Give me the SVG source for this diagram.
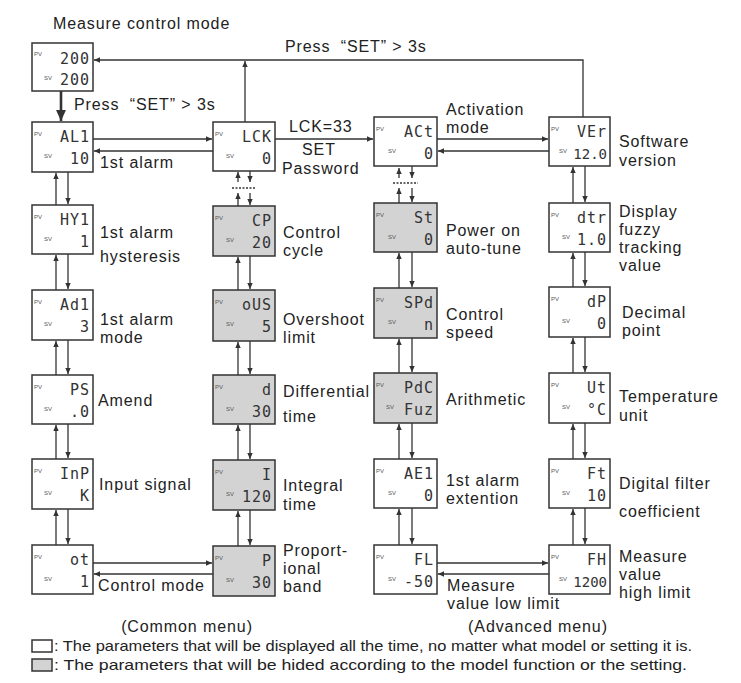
<svg xmlns="http://www.w3.org/2000/svg" width="741" height="683" viewBox="0 0 741 683">
<defs>
<style>
.bx{fill:#fff;stroke:#333;stroke-width:1.5}
.gy{fill:#d3d3d3;stroke:#333;stroke-width:1.5}
.pv{font-family:"Liberation Sans",Arial,sans-serif;font-size:6px;fill:#555}
.dg{font-family:"DejaVu Sans Mono","Liberation Mono",monospace;font-size:15px;fill:#333;text-anchor:end;letter-spacing:1px}
.d4{font-family:"DejaVu Sans Mono","Liberation Mono",monospace;font-size:14px;fill:#333;text-anchor:end}
.lb{font-family:"Liberation Sans",Arial,sans-serif;font-size:16px;letter-spacing:0.9px;fill:#222}
.lg{font-family:"Liberation Sans",Arial,sans-serif;font-size:15px;fill:#222}
.ln{fill:none;stroke:#333;stroke-width:1.3}
.th{fill:none;stroke:#333;stroke-width:2.6}
.dt{fill:none;stroke:#333;stroke-width:1.3;stroke-dasharray:2 1.5}
</style>
<marker id="a" viewBox="0 0 10 10" refX="10" refY="5" markerWidth="7" markerHeight="6" markerUnits="userSpaceOnUse" orient="auto"><path d="M0,0.5 L10,5 L0,9.5 z" fill="#333"/></marker>
<marker id="b" viewBox="0 0 10 10" refX="10" refY="5" markerWidth="11" markerHeight="11" markerUnits="userSpaceOnUse" orient="auto"><path d="M0,0.5 L10,5 L0,9.5 z" fill="#333"/></marker>
</defs>
<rect width="741" height="683" fill="#fff"/>

<g id="labels">
<text class="lb" x="53" y="29">Measure control mode</text>
<text class="lb" x="285" y="52">Press <tspan dx="5">“SET” &gt; 3s</tspan></text>
<text class="lb" x="74" y="110">Press <tspan dx="5">“SET” &gt; 3s</tspan></text>
<text class="lb" x="289" y="132">LCK=33</text>
<text class="lb" x="302" y="155">SET</text>
<text class="lb" x="282" y="174">Password</text>
<text class="lb" x="100" y="168">1st alarm</text>
<text class="lb" x="446" y="115">Activation</text>
<text class="lb" x="446" y="133">mode</text>
<text class="lb" x="619" y="147">Software</text>
<text class="lb" x="619" y="166">version</text>
<text class="lb" x="100" y="238">1st alarm</text>
<text class="lb" x="100" y="262">hysteresis</text>
<text class="lb" x="100" y="325">1st alarm</text>
<text class="lb" x="100" y="343">mode</text>
<text class="lb" x="98" y="406">Amend</text>
<text class="lb" x="99" y="490">Input signal</text>
<text class="lb" x="98" y="591">Control mode</text>
<text class="lb" x="283" y="238">Control</text>
<text class="lb" x="283" y="256">cycle</text>
<text class="lb" x="283" y="325">Overshoot</text>
<text class="lb" x="283" y="343">limit</text>
<text class="lb" x="283" y="397">Differential</text>
<text class="lb" x="283" y="422">time</text>
<text class="lb" x="283" y="491">Integral</text>
<text class="lb" x="283" y="510">time</text>
<text class="lb" x="283" y="556">Proport-</text>
<text class="lb" x="283" y="574">ional</text>
<text class="lb" x="283" y="592">band</text>
<text class="lb" x="446" y="236">Power on</text>
<text class="lb" x="446" y="254">auto-tune</text>
<text class="lb" x="446" y="320">Control</text>
<text class="lb" x="446" y="338">speed</text>
<text class="lb" x="446" y="405">Arithmetic</text>
<text class="lb" x="446" y="486">1st alarm</text>
<text class="lb" x="446" y="504">extention</text>
<text class="lb" x="447" y="591">Measure</text>
<text class="lb" x="447" y="609">value low limit</text>
<text class="lb" x="619" y="217">Display</text>
<text class="lb" x="619" y="235">fuzzy</text>
<text class="lb" x="619" y="253">tracking</text>
<text class="lb" x="619" y="271">value</text>
<text class="lb" x="622" y="318">Decimal</text>
<text class="lb" x="622" y="336">point</text>
<text class="lb" x="619" y="402">Temperature</text>
<text class="lb" x="619" y="421">unit</text>
<text class="lb" x="619" y="489">Digital filter</text>
<text class="lb" x="619" y="517">coefficient</text>
<text class="lb" x="619" y="562">Measure</text>
<text class="lb" x="619" y="580">value</text>
<text class="lb" x="619" y="598">high limit</text>
<text class="lb" x="187" y="632" text-anchor="middle">(Common menu)</text>
<text class="lb" x="538" y="632" text-anchor="middle">(Advanced menu)</text>
</g>

<g id="legend">
<rect class="bx" x="32" y="640" width="20" height="12" stroke-width="1"/>
<text class="lg" x="54" y="651" textLength="638" lengthAdjust="spacingAndGlyphs">: The parameters that will be displayed all the time, no matter what model or setting it is.</text>
<rect class="gy" x="32" y="659" width="20" height="12" stroke-width="1"/>
<text class="lg" x="54" y="670" textLength="633" lengthAdjust="spacingAndGlyphs">: The parameters that will be hided according to the model function or the setting.</text>
</g>

<g id="connectors">
<polyline class="ln" points="583,117 583,60 94,60" marker-end="url(#a)"/>
<line class="ln" x1="245" y1="122" x2="245" y2="61" marker-end="url(#a)"/>
<line class="th" x1="61" y1="91" x2="61" y2="121" marker-end="url(#b)"/>
<line class="ln" x1="93" y1="139" x2="212" y2="139" marker-end="url(#a)"/>
<line class="ln" x1="213" y1="151" x2="94" y2="151" marker-end="url(#a)"/>
<line class="ln" x1="275" y1="139" x2="373" y2="139" marker-end="url(#a)"/>
<line class="ln" x1="437" y1="139" x2="548" y2="139" marker-end="url(#a)"/>
<line class="ln" x1="549" y1="151" x2="438" y2="151" marker-end="url(#a)"/>
<line class="ln" x1="93" y1="563" x2="212" y2="563" marker-end="url(#a)"/>
<line class="ln" x1="213" y1="574" x2="94" y2="574" marker-end="url(#a)"/>
<line class="ln" x1="437" y1="563" x2="548" y2="563" marker-end="url(#a)"/>
<line class="ln" x1="549" y1="574" x2="438" y2="574" marker-end="url(#a)"/>
<line class="ln" x1="56" y1="205" x2="56" y2="173" marker-end="url(#a)"/>
<line class="ln" x1="68" y1="172" x2="68" y2="204" marker-end="url(#a)"/>
<line class="ln" x1="56" y1="290" x2="56" y2="255" marker-end="url(#a)"/>
<line class="ln" x1="68" y1="254" x2="68" y2="289" marker-end="url(#a)"/>
<line class="ln" x1="56" y1="375" x2="56" y2="341" marker-end="url(#a)"/>
<line class="ln" x1="68" y1="340" x2="68" y2="374" marker-end="url(#a)"/>
<line class="ln" x1="56" y1="459" x2="56" y2="425" marker-end="url(#a)"/>
<line class="ln" x1="68" y1="424" x2="68" y2="458" marker-end="url(#a)"/>
<line class="ln" x1="56" y1="545" x2="56" y2="510" marker-end="url(#a)"/>
<line class="ln" x1="68" y1="509" x2="68" y2="544" marker-end="url(#a)"/>
<line class="ln" x1="238" y1="182" x2="238" y2="172" marker-end="url(#a)"/>
<line class="ln" x1="250" y1="171" x2="250" y2="182" marker-end="url(#a)"/>
<line class="dt" x1="232" y1="188" x2="256" y2="188"/>
<line class="ln" x1="238" y1="206" x2="238" y2="193" marker-end="url(#a)"/>
<line class="ln" x1="250" y1="193" x2="250" y2="205" marker-end="url(#a)"/>
<line class="ln" x1="238" y1="290" x2="238" y2="257" marker-end="url(#a)"/>
<line class="ln" x1="250" y1="256" x2="250" y2="289" marker-end="url(#a)"/>
<line class="ln" x1="238" y1="375" x2="238" y2="342" marker-end="url(#a)"/>
<line class="ln" x1="250" y1="341" x2="250" y2="374" marker-end="url(#a)"/>
<line class="ln" x1="238" y1="460" x2="238" y2="425" marker-end="url(#a)"/>
<line class="ln" x1="250" y1="424" x2="250" y2="459" marker-end="url(#a)"/>
<line class="ln" x1="238" y1="546" x2="238" y2="511" marker-end="url(#a)"/>
<line class="ln" x1="250" y1="510" x2="250" y2="545" marker-end="url(#a)"/>
<line class="ln" x1="399" y1="178" x2="399" y2="168" marker-end="url(#a)"/>
<line class="ln" x1="412" y1="166" x2="412" y2="178" marker-end="url(#a)"/>
<line class="dt" x1="393" y1="183" x2="418" y2="183"/>
<line class="ln" x1="399" y1="203" x2="399" y2="188" marker-end="url(#a)"/>
<line class="ln" x1="412" y1="188" x2="412" y2="202" marker-end="url(#a)"/>
<line class="ln" x1="399" y1="288" x2="399" y2="253" marker-end="url(#a)"/>
<line class="ln" x1="412" y1="252" x2="412" y2="287" marker-end="url(#a)"/>
<line class="ln" x1="399" y1="373" x2="399" y2="339" marker-end="url(#a)"/>
<line class="ln" x1="412" y1="338" x2="412" y2="372" marker-end="url(#a)"/>
<line class="ln" x1="399" y1="459" x2="399" y2="424" marker-end="url(#a)"/>
<line class="ln" x1="412" y1="423" x2="412" y2="458" marker-end="url(#a)"/>
<line class="ln" x1="399" y1="545" x2="399" y2="509" marker-end="url(#a)"/>
<line class="ln" x1="412" y1="508" x2="412" y2="544" marker-end="url(#a)"/>
<line class="ln" x1="573" y1="203" x2="573" y2="167" marker-end="url(#a)"/>
<line class="ln" x1="585" y1="166" x2="585" y2="202" marker-end="url(#a)"/>
<line class="ln" x1="573" y1="287" x2="573" y2="253" marker-end="url(#a)"/>
<line class="ln" x1="585" y1="252" x2="585" y2="286" marker-end="url(#a)"/>
<line class="ln" x1="573" y1="373" x2="573" y2="338" marker-end="url(#a)"/>
<line class="ln" x1="585" y1="337" x2="585" y2="372" marker-end="url(#a)"/>
<line class="ln" x1="573" y1="459" x2="573" y2="424" marker-end="url(#a)"/>
<line class="ln" x1="585" y1="423" x2="585" y2="458" marker-end="url(#a)"/>
<line class="ln" x1="573" y1="545" x2="573" y2="509" marker-end="url(#a)"/>
<line class="ln" x1="585" y1="508" x2="585" y2="544" marker-end="url(#a)"/>
</g>

<g id="n-top"><rect class="bx" x="32" y="43" width="61" height="48"/><text class="pv" x="34" y="56">PV</text><text class="pv" x="44" y="80">SV</text><text class="dg" x="90" y="64">200</text><text class="dg" x="90" y="85">200</text></g>
<g id="n-AL1"><rect class="bx" x="32" y="122" width="61" height="50"/><text class="pv" x="34" y="136">PV</text><text class="pv" x="44" y="158">SV</text><text class="dg" x="90" y="142">AL1</text><text class="dg" x="90" y="164">10</text></g>
<g id="n-HY1"><rect class="bx" x="32" y="205" width="61" height="49"/><text class="pv" x="34" y="219">PV</text><text class="pv" x="44" y="241">SV</text><text class="dg" x="90" y="225">HY1</text><text class="dg" x="90" y="247">1</text></g>
<g id="n-Ad1"><rect class="bx" x="32" y="290" width="61" height="50"/><text class="pv" x="34" y="304">PV</text><text class="pv" x="44" y="326">SV</text><text class="dg" x="90" y="310">Ad1</text><text class="dg" x="90" y="332">3</text></g>
<g id="n-PS"><rect class="bx" x="32" y="375" width="61" height="49"/><text class="pv" x="34" y="389">PV</text><text class="pv" x="44" y="411">SV</text><text class="dg" x="90" y="395">PS</text><text class="dg" x="90" y="417">.0</text></g>
<g id="n-InP"><rect class="bx" x="32" y="459" width="61" height="50"/><text class="pv" x="34" y="473">PV</text><text class="pv" x="44" y="495">SV</text><text class="dg" x="90" y="479">InP</text><text class="dg" x="90" y="501">K</text></g>
<g id="n-ot"><rect class="bx" x="32" y="545" width="61" height="49"/><text class="pv" x="34" y="559">PV</text><text class="pv" x="44" y="581">SV</text><text class="dg" x="90" y="565">ot</text><text class="dg" x="90" y="587">1</text></g>

<g id="n-LCK"><rect class="bx" x="213" y="122" width="62" height="49"/><text class="pv" x="215" y="136">PV</text><text class="pv" x="226" y="158">SV</text><text class="dg" x="272" y="142">LCK</text><text class="dg" x="272" y="164">0</text></g>
<g id="n-CP"><rect class="gy" x="213" y="206" width="62" height="50"/><text class="pv" x="215" y="220">PV</text><text class="pv" x="226" y="242">SV</text><text class="dg" x="272" y="226">CP</text><text class="dg" x="272" y="248">20</text></g>
<g id="n-oUS"><rect class="gy" x="213" y="290" width="62" height="51"/><text class="pv" x="215" y="304">PV</text><text class="pv" x="226" y="326">SV</text><text class="dg" x="272" y="310">oUS</text><text class="dg" x="272" y="332">5</text></g>
<g id="n-d"><rect class="gy" x="213" y="375" width="62" height="49"/><text class="pv" x="215" y="389">PV</text><text class="pv" x="226" y="411">SV</text><text class="dg" x="272" y="395">d</text><text class="dg" x="272" y="417">30</text></g>
<g id="n-I"><rect class="gy" x="213" y="460" width="62" height="50"/><text class="pv" x="215" y="474">PV</text><text class="pv" x="226" y="496">SV</text><text class="dg" x="272" y="480">I</text><text class="dg" x="272" y="502">120</text></g>
<g id="n-P"><rect class="gy" x="213" y="546" width="62" height="50"/><text class="pv" x="215" y="560">PV</text><text class="pv" x="226" y="582">SV</text><text class="dg" x="272" y="566">P</text><text class="dg" x="272" y="588">30</text></g>

<g id="n-ACt"><rect class="bx" x="374" y="117" width="63" height="49"/><text class="pv" x="376" y="131">PV</text><text class="pv" x="388" y="153">SV</text><text class="dg" x="434" y="137">ACt</text><text class="dg" x="434" y="159">0</text></g>
<g id="n-St"><rect class="gy" x="374" y="203" width="63" height="49"/><text class="pv" x="376" y="217">PV</text><text class="pv" x="388" y="239">SV</text><text class="dg" x="434" y="223">St</text><text class="dg" x="434" y="245">0</text></g>
<g id="n-SPd"><rect class="gy" x="374" y="288" width="63" height="50"/><text class="pv" x="376" y="302">PV</text><text class="pv" x="388" y="324">SV</text><text class="dg" x="434" y="308">SPd</text><text class="dg" x="434" y="330">n</text></g>
<g id="n-PdC"><rect class="gy" x="374" y="373" width="63" height="50"/><text class="pv" x="376" y="387">PV</text><text class="pv" x="386" y="409">SV</text><text class="dg" x="434" y="393">PdC</text><text class="dg" x="434" y="415">Fuz</text></g>
<g id="n-AE1"><rect class="bx" x="374" y="459" width="63" height="49"/><text class="pv" x="376" y="473">PV</text><text class="pv" x="388" y="495">SV</text><text class="dg" x="434" y="479">AE1</text><text class="dg" x="434" y="501">0</text></g>
<g id="n-FL"><rect class="bx" x="374" y="545" width="63" height="49"/><text class="pv" x="376" y="559">PV</text><text class="pv" x="388" y="581">SV</text><text class="dg" x="434" y="565">FL</text><text class="dg" x="434" y="587">-50</text></g>

<g id="n-VEr"><rect class="bx" x="549" y="117" width="61" height="49"/><text class="pv" x="551" y="131">PV</text><text class="pv" x="559" y="153">SV</text><text class="dg" x="607" y="137">VEr</text><text class="d4" x="607" y="159">12.0</text></g>
<g id="n-dtr"><rect class="bx" x="549" y="203" width="61" height="49"/><text class="pv" x="551" y="217">PV</text><text class="pv" x="562" y="239">SV</text><text class="dg" x="607" y="223">dtr</text><text class="dg" x="607" y="245">1.0</text></g>
<g id="n-dP"><rect class="bx" x="549" y="287" width="61" height="50"/><text class="pv" x="551" y="301">PV</text><text class="pv" x="562" y="323">SV</text><text class="dg" x="607" y="307">dP</text><text class="dg" x="607" y="329">0</text></g>
<g id="n-Ut"><rect class="bx" x="549" y="373" width="61" height="50"/><text class="pv" x="551" y="387">PV</text><text class="pv" x="562" y="409">SV</text><text class="dg" x="607" y="393">Ut</text><text class="dg" x="607" y="415">°C</text></g>
<g id="n-Ft"><rect class="bx" x="549" y="459" width="61" height="49"/><text class="pv" x="551" y="473">PV</text><text class="pv" x="562" y="495">SV</text><text class="dg" x="607" y="479">Ft</text><text class="dg" x="607" y="501">10</text></g>
<g id="n-FH"><rect class="bx" x="549" y="545" width="61" height="49"/><text class="pv" x="551" y="559">PV</text><text class="pv" x="559" y="581">SV</text><text class="dg" x="607" y="565">FH</text><text class="d4" x="607" y="587">1200</text></g>
</svg>
